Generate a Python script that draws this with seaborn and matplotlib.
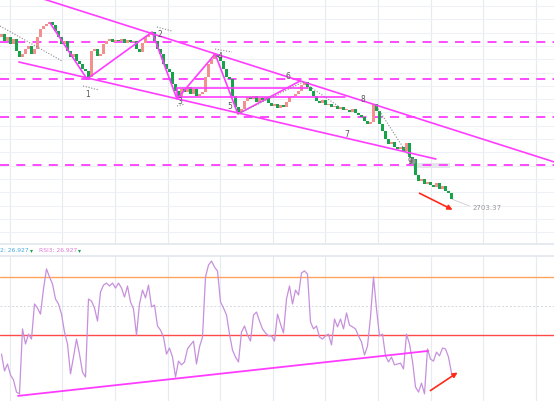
import matplotlib.pyplot as plt
import numpy as np
import pandas as pd
import seaborn as sns

# closes per bar (open = previous close)
first_open = 2785.0
closes = [
    2786.5, 2783, 2785, 2781.5, 2784, 2778, 2775, 2776.5, 2779, 2780.5,
    2776.5, 2779, 2785, 2789, 2790.5, 2791.5, 2792.5, 2791, 2788, 2785,
    2781.5, 2783, 2778, 2775, 2776.5, 2773, 2771.5, 2769, 2768, 2765,
    2778, 2779, 2775.5, 2776.5, 2781.5, 2783, 2784, 2782.5, 2783.5, 2783,
    2784, 2782, 2783.5, 2782.5, 2783, 2779, 2777.5, 2782, 2785, 2786,
    2787.5, 2783, 2779, 2776.5, 2771.5, 2769, 2767.5, 2761.5, 2758, 2755,
    2759, 2757.5, 2760, 2756.5, 2759, 2755.5, 2756.5, 2757.5, 2765, 2771.5,
    2774, 2776.5, 2775, 2773, 2769, 2765, 2764, 2755.5, 2750, 2747.5,
    2749, 2753, 2755, 2754, 2755.5, 2752.5, 2754.5, 2753.5, 2755, 2752,
    2750.5, 2751.5, 2749.5, 2751, 2750, 2752.5, 2755, 2755.5, 2756.5, 2758,
    2761, 2762.5, 2760, 2758, 2755.5, 2753, 2752, 2753.5, 2751, 2751.5,
    2750, 2750.5, 2749, 2750, 2748.5, 2748.5, 2747.5, 2749, 2747, 2746,
    2745, 2743, 2741.5, 2742.5, 2751.5, 2748, 2741.5, 2738, 2734, 2731.5,
    2732.5, 2730, 2729, 2730, 2728, 2732, 2725, 2724, 2716, 2713,
    2714, 2711.5, 2712.5, 2711, 2710, 2712, 2709, 2710.5, 2708, 2707,
    2704,
]
rsi = [
    33.4, 27.6, 30.0, 26.2, 24.5, 20.3, 19.7, 42.1, 36.9, 40.3,
    38.6, 50.7, 49.3, 47.2, 55.9, 62.8, 60.0, 57.6, 52.4, 50.7,
    47.2, 41.0, 36.9, 26.6, 32.4, 38.6, 33.4, 27.2, 25.5, 52.4,
    51.7, 49.3, 44.8, 54.8, 57.2, 57.9, 56.9, 57.9, 56.2, 57.9,
    56.2, 53.1, 56.9, 51.4, 49.0, 40.0, 50.7, 55.5, 52.8, 57.2,
    49.7, 50.3, 43.1, 41.7, 39.3, 33.4, 35.5, 32.4, 25.5, 31.0,
    29.7, 30.7, 35.2, 36.6, 37.9, 30.0, 35.9, 39.3, 60.0, 64.1,
    65.5, 63.4, 62.1, 51.4, 49.3, 46.9, 40.3, 34.8, 32.4, 30.7,
    41.0, 43.1, 40.0, 37.9, 46.9, 47.9, 44.8, 42.1, 40.7, 39.7,
    39.7, 37.9, 47.2, 43.8, 40.7, 52.4, 56.9, 50.7, 55.5, 53.8,
    61.4, 62.1, 61.0, 44.5, 42.1, 43.1, 39.3, 38.6, 39.7, 40.3,
    36.6, 45.5, 42.8, 45.5, 42.1, 47.6, 43.4, 42.8, 42.1, 39.7,
    37.6, 33.1, 36.2, 46.2, 60.0, 49.0, 39.7, 40.3, 32.8, 30.7,
    32.4, 29.7, 30.0, 30.3, 28.3, 40.3, 36.9, 31.0, 22.1, 20.3,
    23.4, 19.7, 35.2, 31.7, 31.0, 34.1, 32.8, 35.5, 35.2, 32.4,
    26.9,
]
last_price_label = '2703.37'
rsi_label_value = '26.927'

# annotations (bar index, price)
level_prices = [2782.5, 2764, 2745, 2721]
upper_channel = ([14, 184.5], [2804, 2722.4])
lower_channel = ([5.8, 144.8], [2772.5, 2724])
zigzag_bars = [16.2, 28.5, 50.2, 58.5, 71.2, 78.8, 99.5]
zigzag_prices = [2792, 2764, 2787.5, 2754, 2776.5, 2746.5, 2763]
box_lines = [([58.5, 102.2], [2759.5, 2759.5]), ([58.5, 114.5], [2755, 2755]),
             ([58.5, 58.5], [2755, 2759.5])]
dotted_lines = [
    ([-0.5, 20.2], [2790.5, 2773]), ([27.2, 32.5], [2760.5, 2758.5]),
    ([51.8, 56.8], [2790, 2788]), ([71.2, 76.8], [2779, 2777.5]),
    ([58.5, 61.2], [2750.5, 2751.5]), ([78.8, 100.5], [2746.5, 2762.5]),
    ([100.5, 112.2], [2762.5, 2750.5]), ([124.5, 136.8], [2751.5, 2723]),
]
wave_labels = ['1', '2', '3', '4', '5', '6', '7', '8', '9']
wave_bars = [28.8, 52.8, 59.5, 72.8, 76.2, 95.5, 115.2, 120.5, 136.2]
wave_prices = [2756.5, 2786.5, 2753, 2775.5, 2750.5, 2765.5, 2736.5, 2754, 2723]
rsi_support = ([5.5, 142.2], [19.0, 34.5])

sns.set_theme(style='white')
MAG = '#ff3cff'
GRID = '#edf0f5'

df = pd.DataFrame({'close': closes, 'rsi': rsi})
df['bar'] = np.arange(len(df))
df['open'] = [first_open] + closes[:-1]
df['up'] = df['close'] >= df['open']

fig = plt.figure(figsize=(5.54, 4.02), dpi=100)
ax = fig.add_axes([0, 1 - 245 / 402, 1, 245 / 402])
ax2 = fig.add_axes([0, 0, 1, 145 / 402])
xlim = (-0.5, 554 / 3 - 0.5)
vgrid = np.arange(2.8, 185, 17.53)

for a in (ax, ax2):
    a.set_xlim(*xlim)
    a.set_xticks([])
    a.set_yticks([])
    for s in a.spines.values():
        s.set_visible(False)
    for v in vgrid:
        a.axvline(v, color='#e6eaf1', lw=0.8, zorder=0)

ax.set_ylim(2681.5, 2804)
for h in np.arange(2800.5, 2681, -6.65):
    ax.axhline(h, color=GRID, lw=0.7, zorder=0)
ax.spines['bottom'].set_visible(True)
ax.spines['bottom'].set_color('#e3e6ec')

# candles
heights = (df['close'] - df['open']).where(lambda s: s.abs() > 0.3, 0.3)
colors = np.where(df['up'], '#f38f8f', '#17a34a')
ax.bar(df['bar'], heights, bottom=df['open'], width=0.75, color=colors, lw=0, zorder=3)

for p in level_prices:
    ax.axhline(p, color=MAG, lw=1.3, dashes=(5, 4), zorder=2)
ax.plot(*upper_channel, color=MAG, lw=1.2, zorder=4)
ax.plot(*lower_channel, color=MAG, lw=1.2, zorder=4)
ax.plot(zigzag_bars, zigzag_prices, color=MAG, lw=1.2, zorder=4)
for xs, ys in box_lines:
    ax.plot(xs, ys, color=MAG, lw=1.2, zorder=4)
for xs, ys in dotted_lines:
    ax.plot(xs, ys, color='#8a8a8a', lw=0.8, ls=(0, (1, 1.5)), zorder=4)
ax.scatter([136.8], [2723], s=12, color='#999999', zorder=5)
for t, bx, py in zip(wave_labels, wave_bars, wave_prices):
    ax.text(bx, py, t, fontsize=5.5, color='#555555', ha='center', va='center', zorder=6)

ax.fill_between([137.2, 149.5], 2719.5, 2721.8, color='#e4e6ec', lw=0, zorder=1)
ax.plot([150, 156], [2704, 2700.5], color='#cccccc', lw=0.6)
ax.text(157, 2700, last_price_label, fontsize=5, color='#9a9a9a', va='center')
ax.annotate('', xy=(151.2, 2698), xytext=(138.5, 2707.5),
            arrowprops=dict(arrowstyle='-|>', color='#ff2a1a', lw=1.2, mutation_scale=7))

# RSI panel
ax2.set_ylim(17.24, 67.24)
ax2.spines['top'].set_visible(True)
ax2.spines['top'].set_color('#e3e6ec')
ax2.axhline(60, color='#ffa35e', lw=1.0)
ax2.axhline(40, color='#ff4a4a', lw=1.0)
ax2.axhline(50, color='#d5d8de', lw=0.7, ls=(0, (2, 2)))
sns.lineplot(data=df, x='bar', y='rsi', ax=ax2, color='#c690dc', lw=0.9, zorder=3)
ax2.plot(*rsi_support, color=MAG, lw=1.3, zorder=4)
ax2.annotate('', xy=(152.8, 27.6), xytext=(142.2, 20.3),
             arrowprops=dict(arrowstyle='-|>', color='#ff2a1a', lw=1.2, mutation_scale=7))
ax2.set_xlabel('')
ax2.set_ylabel('')
ax2.set_xlim(*xlim)

ly = 1 - 251 / 402
fig.text(0.0, ly, f'2: {rsi_label_value}', fontsize=4.3, color='#4aa8e0', va='center')
fig.text(29.5 / 554, ly, '▾', fontsize=4.3, color='#1aa34a', va='center')
fig.text(39 / 554, ly, f'RSI3: {rsi_label_value}', fontsize=4.3, color='#e07ad8', va='center')
fig.text(77.5 / 554, ly, '▾', fontsize=4.3, color='#1aa34a', va='center')

plt.savefig('out.png', dpi=100)
